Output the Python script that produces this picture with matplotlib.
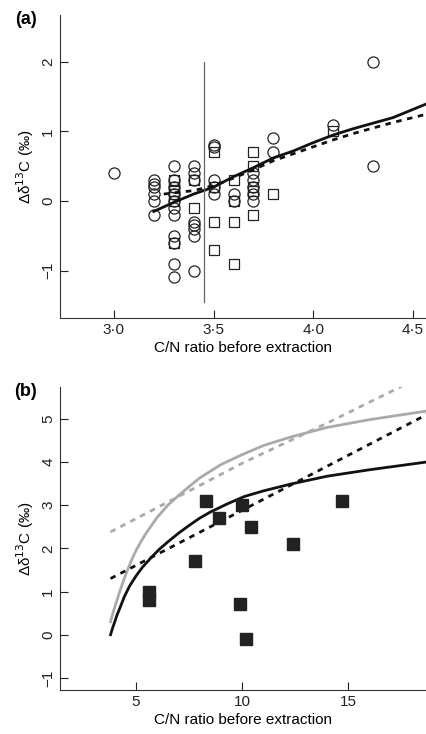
import matplotlib
matplotlib.use("Agg")
import matplotlib.pyplot as plt
from matplotlib.ticker import FuncFormatter

plt.rcParams['font.family'] = ['Liberation Sans', 'DejaVu Sans']

# panel (a) data
circ_x = [3.0,
          3.2, 3.2, 3.2, 3.2, 3.2, 3.2,
          3.3, 3.3, 3.3, 3.3, 3.3, 3.3, 3.3, 3.3, 3.3, 3.3, 3.3,
          3.4, 3.4, 3.4, 3.4, 3.4, 3.4, 3.4, 3.4,
          3.5, 3.5, 3.5, 3.5, 3.5,
          3.6, 3.6,
          3.7, 3.7, 3.7, 3.7, 3.7,
          3.8, 3.8,
          4.1,
          4.3, 4.3]
circ_y = [0.4,
          0.3, 0.25, 0.2, 0.1, 0.0, -0.2,
          0.5, 0.3, 0.2, 0.1, 0.0, -0.1, -0.2, -0.5, -0.6, -0.9, -1.1,
          0.5, 0.4, 0.3, -0.3, -0.35, -0.4, -0.5, -1.0,
          0.8, 0.78, 0.3, 0.2, 0.1,
          0.1, 0.0,
          0.4, 0.3, 0.2, 0.1, 0.0,
          0.9, 0.7,
          1.1,
          2.0, 0.5]
sq_x = [3.3, 3.3, 3.3, 3.3, 3.3, 3.3,
        3.4, 3.4,
        3.5, 3.5, 3.5, 3.5,
        3.6, 3.6, 3.6, 3.6,
        3.7, 3.7, 3.7, 3.7, 3.7,
        3.8,
        4.1]
sq_y = [0.3, 0.2, 0.15, 0.1, 0.0, -0.6,
        0.3, -0.1,
        0.7, 0.2, -0.3, -0.7,
        0.3, 0.0, -0.3, -0.9,
        0.7, 0.5, 0.2, 0.15, -0.2,
        0.1,
        1.0]
fit_x = [3.2, 3.3, 3.4, 3.5, 3.6, 3.7, 3.8, 3.9, 4.0, 4.1, 4.2, 4.3, 4.4, 4.57]
fit_y = [-0.15, -0.02, 0.1, 0.2, 0.35, 0.48, 0.62, 0.72, 0.84, 0.95, 1.04, 1.12, 1.2, 1.4]
fit2_x = [3.25, 3.4, 3.5, 3.6, 3.7, 3.8, 3.9, 4.0, 4.1, 4.2, 4.3, 4.4, 4.57]
fit2_y = [0.1, 0.15, 0.22, 0.33, 0.45, 0.58, 0.68, 0.78, 0.88, 0.97, 1.05, 1.13, 1.25]
cut_x = 3.45

# panel (b) data
b_x = [5.6, 5.6, 7.8, 8.3, 8.9, 9.9, 10.0, 10.2, 10.4, 12.4, 14.7]
b_y = [1.0, 0.8, 1.7, 3.1, 2.7, 0.7, 3.0, -0.1, 2.5, 2.1, 3.1]
black_x = [3.8, 3.9, 4.0, 4.1, 4.25, 4.45, 4.7, 5.0, 5.3, 5.7, 6.1, 6.5, 7.0, 7.5, 8.0, 8.5,
           9.3, 10.1, 11.0, 12.3, 14.0, 16.0, 18.7]
black_y = [0.0, 0.16, 0.3, 0.45, 0.63, 0.88, 1.13, 1.36, 1.56, 1.78, 1.98, 2.15, 2.35, 2.53, 2.7, 2.84,
           3.03, 3.2, 3.33, 3.49, 3.67, 3.82, 4.0]
gray_x = [3.8, 3.9, 4.0, 4.2, 4.4, 4.6, 4.8, 5.0, 5.25, 5.5, 6.0, 6.5, 7.0, 7.5, 8.0, 9.0,
          10.0, 11.0, 12.3, 14.0, 16.0, 18.7]
gray_y = [0.3, 0.48, 0.64, 0.95, 1.24, 1.5, 1.74, 1.95, 2.17, 2.37, 2.72, 3.0, 3.22, 3.43, 3.63, 3.94,
          4.17, 4.38, 4.58, 4.8, 4.98, 5.18]
bdash_x = [3.8, 18.7]
bdash_y = [1.3, 5.1]
gdash_x = [3.8, 7.0, 10.0, 14.0, 17.5]
gdash_y = [2.38, 3.2, 3.97, 4.9, 5.75]

fmt_dot = FuncFormatter(lambda v, p: ('%.1f' % v).replace('.', '\u00b7'))
fmt_int = FuncFormatter(lambda v, p: ('%d' % v).replace('-', '\u2212'))

fig = plt.figure(figsize=(4.27, 7.34), dpi=100)
ax1 = fig.add_axes([0.1405, 0.567, 0.8595, 0.413])
ax2 = fig.add_axes([0.1405, 0.06, 0.8595, 0.413])

ax1.plot(circ_x, circ_y, 'o', ms=8, mfc='none', mec='#222222', mew=0.9)
ax1.plot(sq_x, sq_y, 's', ms=7.5, mfc='none', mec='#222222', mew=0.9)
ax1.plot(fit_x, fit_y, '-', color='#111111', lw=2)
ax1.plot(fit2_x, fit2_y, color='#111111', lw=2, ls=(0, (2, 2)))
ax1.plot([cut_x, cut_x], [-1.45, 2.0], color='#666666', lw=0.9)
ax1.set_xlim(2.73, 4.57)
ax1.set_ylim(-1.68, 2.68)
ax1.set_xticks([3.0, 3.5, 4.0, 4.5])
ax1.set_yticks([-1, 0, 1, 2])
ax1.xaxis.set_major_formatter(fmt_dot)
ax1.yaxis.set_major_formatter(fmt_int)

ax2.plot(gray_x, gray_y, color='#aaaaaa', lw=2)
ax2.plot(gdash_x, gdash_y, color='#aaaaaa', lw=2, ls=(0, (2, 2)))
ax2.plot(black_x, black_y, color='#111111', lw=2)
ax2.plot(bdash_x, bdash_y, color='#111111', lw=2, ls=(0, (2, 2)))
ax2.plot(b_x, b_y, 's', ms=8, color='#222222')
ax2.set_xlim(1.42, 18.7)
ax2.set_ylim(-1.28, 5.74)
ax2.set_xticks([5, 10, 15])
ax2.set_yticks([-1, 0, 1, 2, 3, 4, 5])
ax2.yaxis.set_major_formatter(fmt_int)

for ax, lab in [(ax1, '(a)'), (ax2, '(b)')]:
    ax.spines['top'].set_visible(False)
    ax.spines['right'].set_visible(False)
    ax.spines['left'].set_color('#333333')
    ax.spines['bottom'].set_color('#333333')
    ax.tick_params(direction='in', length=6, labelsize=11, colors='#222222')
    for t in ax.get_yticklabels():
        t.set_rotation(90)
        t.set_va('center')
    ax.set_xlabel('C/N ratio before extraction', fontsize=11, labelpad=3)
    ax.set_ylabel('\u0394\u03b4$^{13}$C (\u2030)', fontsize=11, labelpad=4)
    ax.text(-0.093, 0.985, lab, transform=ax.transAxes, fontsize=13,
            fontweight='bold', va='center', ha='center')

fig.savefig('out.png', dpi=100)
